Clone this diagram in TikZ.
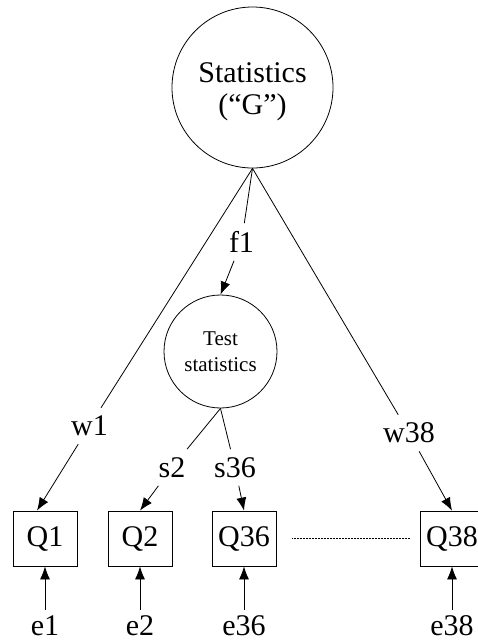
\documentclass[tikz,border=0pt]{standalone}
\usepackage{fontspec}
\setmainfont{Liberation Serif}
\usetikzlibrary{arrows.meta}
\begin{document}
\begin{tikzpicture}[x=1pt,y=-1pt,
  every node/.style={font=\fontsize{30}{32}\selectfont},
  lv/.style={draw,circle,inner sep=0pt,line width=0.8pt},
  obs/.style={draw,rectangle,minimum width=64pt,minimum height=55pt,inner sep=0pt,line width=0.8pt},
  lab/.style={inner sep=8pt},
  err/.style={anchor=base,inner sep=5pt},
  conn/.style={line width=0.8pt},
  arr/.style={conn,-{Latex[length=13pt,width=10pt]}},
]
\useasboundingbox (0,0) rectangle (478,640);
% latent variables
\node[lv,minimum size=161pt] (G) at (252.5,87.5) {};
\node[align=center] (Gt) at (252.5,92) {Statistics\\(“G”)};
\node[lv,minimum size=113pt,align=center,font=\fontsize{21}{26}\selectfont] (T) at (220.5,351.5) {Test\\statistics};
% observed
\node[obs] (Q1) at (45,538.5) {Q1};
\node[obs] (Q2) at (140,538.5) {Q2};
\node[obs] (Q36) at (244,538.5) {Q36};
\node[obs] (Q38) at (452,538.5) {Q38};
% errors
\node[err] (e1) at (45,635) {e1};
\node[err] (e2) at (140,635) {e2};
\node[err] (e36) at (244,635) {e36};
\node[err] (e38) at (452,635) {e38};
% loading labels
\node[lab] (f1) at (241.5,242) {f1};
\node[lab] (w1) at (89.5,426) {w1};
\node[lab] (w38) at (409,433) {w38};
\node[lab] (s2) at (172,467.5) {s2};
\node[lab] (s36) at (235,467.5) {s36};
% connectors
\draw[conn] (G.south) -- (w1);
\draw[arr] (w1) -- ([xshift=-8pt]Q1.north);
\draw[conn] (G.south) -- (f1);
\draw[arr] (f1) -- (T.north);
\draw[conn] (G.south) -- (w38);
\draw[arr] (w38) -- (Q38.north);
\draw[conn] (T.south) -- (s2);
\draw[arr] (s2) -- (Q2.north);
\draw[conn] (T.south) -- (s36);
\draw[arr] (s36) -- (Q36.north);
\draw[arr] (e1) -- (Q1);
\draw[arr] (e2) -- (Q2);
\draw[arr] (e36) -- (Q36);
\draw[arr] (e38) -- (Q38);
\draw[line width=0.5pt,densely dotted,shorten <=16pt,shorten >=9pt] (Q36) -- (Q38);
\end{tikzpicture}
\end{document}
